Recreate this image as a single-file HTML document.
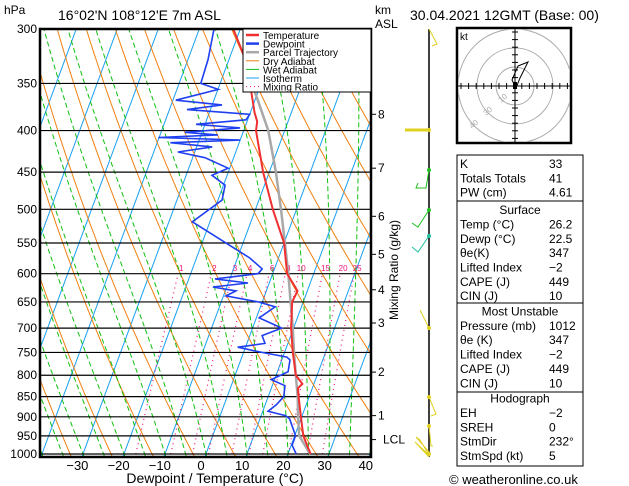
<!DOCTYPE html>
<html><head><meta charset="utf-8"><style>
html,body{margin:0;padding:0;background:#fff;}
svg{display:block;font-family:"Liberation Sans",sans-serif;}
.t{font-size:12px;fill:#000;}
</style></head><body>
<svg id="chart" width="629" height="486" viewBox="0 0 629 486">
<defs><clipPath id="pc"><rect x="40" y="29" width="331" height="428"/></clipPath></defs>
<g id="bg" clip-path="url(#pc)"></g>
<g id="grid"></g>
<g id="series" clip-path="url(#pc)"></g>
<rect x="40" y="29" width="331" height="428" fill="none" stroke="#000" stroke-width="2.5"/>
<text x="4" y="14" class="t">hPa</text>
<text x="58" y="20" style="font-size:14px">16°02'N  108°12'E  7m  ASL</text>
<text x="375" y="14" class="t">km</text>
<text x="375" y="28" class="t">ASL</text>
<text x="410" y="20" style="font-size:14px">30.04.2021  12GMT  (Base: 00)</text>
<text x="215" y="483" text-anchor="middle" style="font-size:14px">Dewpoint / Temperature (°C)</text>
<text transform="translate(398,270) rotate(-90)" text-anchor="middle" class="t">Mixing Ratio (g/kg)</text>
<g id="xt"></g>
<g id="yt"></g>
<g id="km"></g>
<g>
<rect x="243" y="29" width="128" height="63" fill="#fff" stroke="#000" stroke-width="1"/>
<g id="leg"></g>
</g>
<g fill="none" stroke-width="1">
<line x1="429" y1="29" x2="429" y2="457" stroke="#000" stroke-width="1.5"/>
<polyline points="429,29 437,44 432,46" stroke="#e0d020"/>
<line x1="405" y1="130" x2="429" y2="130" stroke="#e0d020" stroke-width="3"/>
<polyline points="429,170 426,188 416,188 418,183" stroke="#20c020"/>
<polyline points="429,210 418,227 412,223" stroke="#20c020"/>
<polyline points="429,236 418,252 412,247" stroke="#20c0a0"/>
<line x1="429" y1="328" x2="420" y2="310" stroke="#e0d020"/>
<polyline points="429,397 436,414 431,416" stroke="#e0d020"/>
<polyline points="429,426 431,446 433,446" stroke="#e0d020"/>
<polyline points="429,452 416,437 420,440 429,455 415,442 429,457" stroke="#e0d020"/>
<circle cx="429" cy="130" r="2" fill="#e0d020"/><circle cx="429" cy="170" r="2" fill="#20c020"/><circle cx="429" cy="210" r="2" fill="#20c020"/><circle cx="429" cy="236" r="2" fill="#20c0a0"/><circle cx="429" cy="328" r="2" fill="#e0d020"/><circle cx="429" cy="397" r="2" fill="#e0d020"/><circle cx="429" cy="426" r="2" fill="#e0d020"/><circle cx="429" cy="454" r="2" fill="#e0d020"/>
</g>
<g>
<rect x="457" y="28" width="114" height="115" fill="#fff" stroke="#000" stroke-width="2.5"/>
<g clip-path="url(#hc)"><circle cx="515" cy="86" r="19" fill="none" stroke="#aaa"/><circle cx="515" cy="86" r="38" fill="none" stroke="#aaa"/><circle cx="515" cy="86" r="57" fill="none" stroke="#aaa"/></g>
<line x1="458" y1="86" x2="570" y2="86" stroke="#000"/><line x1="515" y1="29" x2="515" y2="142" stroke="#000"/>
<g id="hticks" stroke="#000"></g>
<text x="460" y="40" style="font-size:10px">kt</text>
<text x="501" y="103" style="font-size:8px;fill:#aaa" transform="rotate(-40 501 103)">10</text>
<text x="486" y="116" style="font-size:8px;fill:#aaa" transform="rotate(-40 486 116)">30</text>
<text x="472" y="129" style="font-size:8px;fill:#aaa" transform="rotate(-40 472 129)">40</text>
<polyline points="515,86 512,80 518,66 528,62 520,78 516,88" fill="none" stroke="#000"/>
<rect x="513" y="82" width="4" height="7" fill="#000"/>
</g>
<g>
<rect x="457" y="155" width="126" height="311" fill="#fff" stroke="#000"/>
<line x1="457" y1="201" x2="583" y2="201" stroke="#000"/>
<line x1="457" y1="303" x2="583" y2="303" stroke="#000"/>
<line x1="457" y1="392" x2="583" y2="392" stroke="#000"/>
<g id="tbl"></g>
</g>
<text x="449" y="484" style="font-size:13px">© weatheronline.co.uk</text>
<clipPath id="hc"><rect x="458" y="29" width="112" height="113"/></clipPath>
</svg>
<script>
// ---- data ----
const tempP = [1000,950,900,850,830,820,800,750,700,650,630,600,550,500,450,400,390,380,350,322,300];
const tempT = [25.5,22.1,19.8,17.4,16.5,17.2,14.8,12.0,9.4,7.3,7.6,3.5,0.0,-5.8,-11.5,-17.0,-17.5,-19.0,-22.7,-27.0,-31.7];
const dewP = [1000,975,950,939,905,897,886,870,850,824,810,792,766,760,750,739,731,715,700,680,659,650,639,630,623,616,609,600,592,574,546,518,487,467,454,445,432,425,419,414,411,408,405,402,397,393,388,382,377,372,367,356,350,327,300];
const dewT = [22.0,20.2,20.2,19.5,17.2,15.9,11.3,12.7,13.8,13.1,9.2,12.6,12.0,11.0,4.5,-1.9,4.4,3.0,7.1,0.7,3.6,-1.0,-9.4,-7.4,-13.4,-5.2,-13.6,-3.6,-3.0,-7.0,-15.4,-24.3,-19.0,-19.6,-23.7,-20.4,-27.0,-34.1,-26.2,-36.8,-20.0,-40.2,-25.9,-34.2,-21.1,-32.2,-20.4,-20.0,-35.7,-27.6,-39.3,-29.9,-34.7,-35.1,-36.4];
const parcelP = [1000,950,900,850,800,750,700,650,600,550,500,450,400,367,359];
const parcelT = [25.4,21.1,19.1,17.2,14.8,12.3,9.8,6.9,3.8,0.2,-3.8,-8.4,-14.0,-19.3,-20.7];
const pressureTicks = [300,350,400,450,500,550,600,650,700,750,800,850,900,950,1000];
const tempTicks = [-30,-20,-10,0,10,20,30,40];
const mixRatios = [1,2,3,4,6,8,10,15,20,25];
const kmLabels = ["8","7","6","5","4","3","2","1","LCL"];
const kmPress = [382,445,510,568,628,690,793,897,960];
const tableRows = [["K","33",0],["Totals Totals","41",0],["PW (cm)","4.61",0],["Surface","",1],["Temp (°C)","26.2",0],["Dewp (°C)","22.5",0],["θe(K)","347",0],["Lifted Index","−2",0],["CAPE (J)","449",0],["CIN (J)","10",0],["Most Unstable","",1],["Pressure (mb)","1012",0],["θe (K)","347",0],["Lifted Index","−2",0],["CAPE (J)","449",0],["CIN (J)","10",0],["Hodograph","",1],["EH","−2",0],["SREH","0",0],["StmDir","232°",0],["StmSpd (kt)","5",0]];
// ---- axes ----
const NS="http://www.w3.org/2000/svg";
function Y(p){return 29+425*Math.log(p/300)/Math.log(1000/300);}
function X(t,p){return 206+4.1*t+0.37*(454-Y(p));}
function mk(tag,attrs,parent){const e=document.createElementNS(NS,tag);for(const k in attrs)e.setAttribute(k,attrs[k]);parent.appendChild(e);return e;}
function line(pts,color,w,dash,parent,name){
  const e=mk('polyline',{points:pts.map(q=>q[0].toFixed(1)+','+q[1].toFixed(1)).join(' '),fill:'none',stroke:color,'stroke-width':w},parent);
  if(dash)e.setAttribute('stroke-dasharray',dash);
  
  
  return e;}
const bg=document.getElementById('bg'),ser=document.getElementById('series'),grid=document.getElementById('grid');
const levs=[];for(let p=1050;p>=250;p-=10)levs.push(p);
// isotherms
for(let t=-120;t<=50;t+=10){line([[X(t,1050),Y(1050)],[X(t,250),Y(250)]],'#18a0f0',1,null,bg,'isotherm');}
// dry adiabats
for(let th=220;th<=520;th+=10){line(levs.map(p=>{const T=th*Math.pow(p/1000,0.2857)-273.15;return[X(T,p),Y(p)];}),'#f08010',1,null,bg,'dry-adiabat');}
// wet adiabats
function es(tc){return 6.112*Math.exp(17.67*tc/(tc+243.5));}
for(let tw=-45;tw<=40;tw+=5){let T=tw+273.15,p=1050;
  // start at 1000: integrate down to 1050 first
  let pts=[];let Tc=tw+273.15;let pp=1000;
  const step=(T,p,dp)=>{const tc=T-273.15,e=es(tc),rs=0.622*e/(p-e);const Lv=2.5e6,Rd=287,cp=1004;return T+dp*(Rd*T+Lv*rs)/(p*(cp+Lv*Lv*rs*0.622/(Rd*T*T)));};
  let Tb=Tc;for(let q=1000;q<1050;q+=5)Tb=step(Tb,q,5);
  T=Tb;for(p=1050;p>=250;p-=5){pts.push([X(T-273.15,p),Y(p)]);T=step(T,p,-5);}
  line(pts,'#10c010',1,'5,3',bg,'wet-adiabat');}
// mixing ratio lines
mixRatios.forEach(w=>{const pts=[];for(let p=1000;p>=600;p-=10){const e=w*p/(622+w),l=Math.log(e/6.112),td=243.5*l/(17.67-l);pts.push([X(td,p),Y(p)]);}
  line(pts,'#f0107a',1.2,'1,4',bg,'mixing-ratio-line');
  const e=w*600/(622+w),l=Math.log(e/6.112),td=243.5*l/(17.67-l);
  const tx=mk('text',{x:X(td,600)+3,y:271,'text-anchor':'middle',style:'font-size:8px;fill:#f0107a'},bg);tx.textContent=w;
  
  });
// pressure grid + labels
pressureTicks.forEach(p=>{const y=Y(p);const l=mk('line',{x1:40,x2:371,y1:y,y2:y,stroke:'#000','stroke-width':1.2},grid);
  
  
  const t=mk('text',{x:37,y:y+4,'text-anchor':'end',class:'t'},document.getElementById('yt'));t.textContent=p;
  
  });
tempTicks.forEach(t=>{const e=mk('text',{x:201+4.12*t,y:470,'text-anchor':'middle',style:'font-size:13px'},document.getElementById('xt'));e.textContent=String(t).replace('-','−');
  
  });
// km axis
const km=document.getElementById('km');
kmLabels.forEach((k,i)=>{const y=Y(kmPress[i]);mk('line',{x1:371,x2:376,y1:y,y2:y,stroke:'#000'},km);
  const t=mk('text',{x:k==='LCL'?383:378,y:y+4,class:'t'},km);t.textContent=k;
  
  });
// series
line(parcelP.map((p,i)=>[X(parcelT[i],p),Y(p)]),'#a8a8a8',2.5,null,ser,'parcel-trajectory');
line(dewP.map((p,i)=>[X(dewT[i],p),Y(p)]),'#2040f0',1.6,null,ser,'dewpoint-line');
line(tempP.map((p,i)=>[X(tempT[i],p),Y(p)]),'#f03030',2,null,ser,'temperature-line');
// legend
const leg=document.getElementById('leg');
[["Temperature","#f03030",null,2.5],["Dewpoint","#2040f0",null,2.5],["Parcel Trajectory","#a8a8a8",null,2.5],["Dry Adiabat","#f08010",null,1],["Wet Adiabat","#10c010",null,1],["Isotherm","#18a0f0",null,1],["Mixing Ratio","#f0107a","1,3",1]].forEach((r,i)=>{
  const y=35+i*8.6;const l=mk('line',{x1:246,x2:259,y1:y,y2:y,stroke:r[1],'stroke-width':r[3]},leg);if(r[2])l.setAttribute('stroke-dasharray',r[2]);
  const t=mk('text',{x:263,y:y+4,style:'font-size:10px'},leg);t.textContent=r[0];
  
  });
// hodograph ticks
const ht=document.getElementById('hticks');
for(let d=-54;d<=54;d+=7.6){if(Math.abs(d)<1)continue;mk('line',{x1:515+d,x2:515+d,y1:83,y2:89},ht);mk('line',{x1:512,x2:518,y1:86+d,y2:86+d},ht);}
// table
const tb=document.getElementById('tbl');
tableRows.forEach((r,i)=>{let y=168+i*14.35+(i>=3?3:0)+(i>=10?1:0)+(i>=16?1:0);
  const t=mk('text',{x:r[2]?520:460,y:y,'text-anchor':r[2]?'middle':'start',class:'t'},tb);t.textContent=r[0];
  
  
  if(r[1]){const v=mk('text',{x:549,y:y,class:'t'},tb);v.textContent=r[1];
  
  }});
</script>
</body></html>
